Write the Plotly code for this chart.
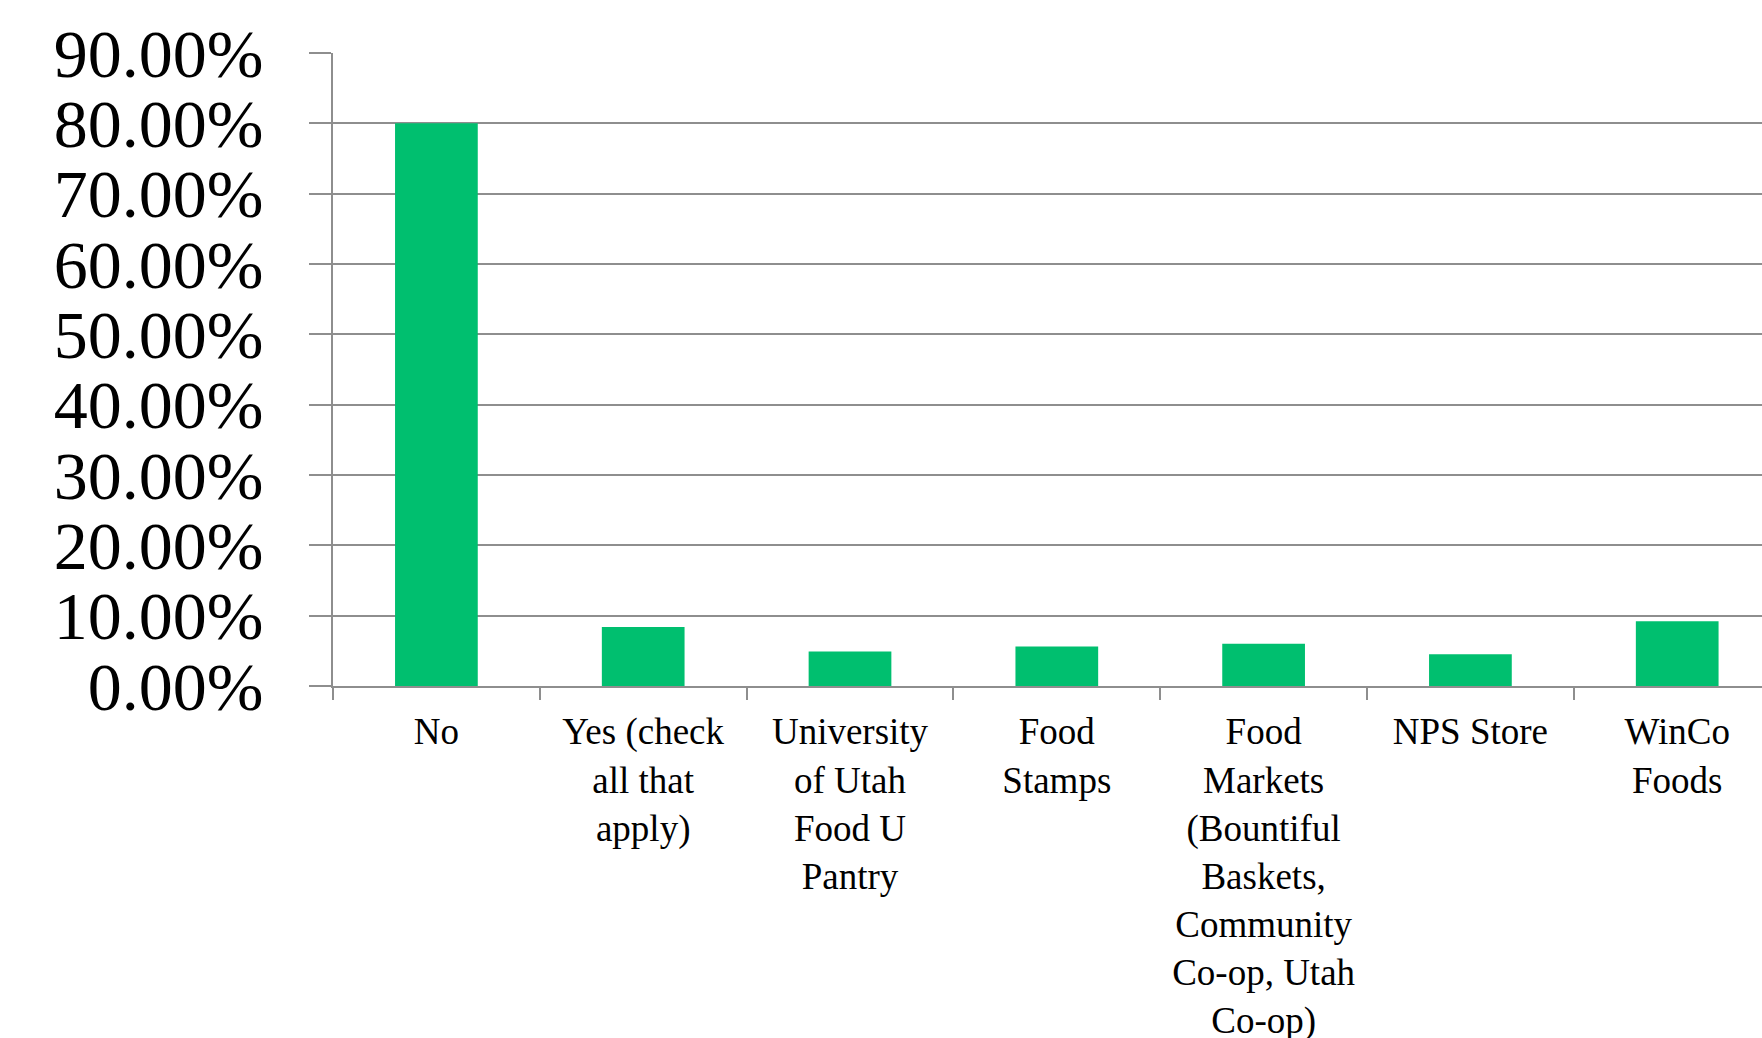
import plotly.graph_objects as go

# Survey responses: share of respondents for each food resource option
categories = [
    "No",
    "Yes (check<br>all that<br>apply)",
    "University<br>of Utah<br>Food U<br>Pantry",
    "Food<br>Stamps",
    "Food<br>Markets<br>(Bountiful<br>Baskets,<br>Community<br>Co-op, Utah<br>Co-op)",
    "NPS Store",
    "WinCo<br>Foods",
]
shares = [0.800, 0.084, 0.049, 0.056, 0.060, 0.045, 0.092]
y_ticks = [0.0, 0.1, 0.2, 0.3, 0.4, 0.5, 0.6, 0.7, 0.8, 0.9]

GREEN = "#00BF6F"
GRID = "#8E8E8E"
FONT = "Liberation Serif, Times New Roman, serif"

fig = go.Figure(
    go.Bar(
        x=categories,
        y=shares,
        marker=dict(color=GREEN, line=dict(width=0)),
        width=0.4,
    )
)

fig.update_layout(
    width=1762,
    height=1038,
    margin=dict(l=333, r=0, t=53, b=352, autoexpand=False),
    plot_bgcolor="white",
    paper_bgcolor="white",
    showlegend=False,
    font=dict(family=FONT, color="black"),
)

fig.update_xaxes(
    range=[-0.5, 6.41],
    automargin=False,
    showgrid=False,
    showline=True,
    linecolor=GRID,
    linewidth=2,
    ticks="outside",
    tickson="boundaries",
    ticklen=12,
    tickwidth=2,
    tickcolor=GRID,
    tickfont=dict(size=37, family=FONT, color="black"),
    ticklabelstandoff=12,
)

fig.update_yaxes(
    range=[0, 0.9],
    automargin=False,
    tickvals=y_ticks,
    tickformat=".2%",
    showgrid=True,
    gridcolor=GRID,
    gridwidth=2,
    showline=True,
    linecolor=GRID,
    linewidth=2,
    ticks="outside",
    ticklen=22,
    tickwidth=2,
    tickcolor=GRID,
    tickfont=dict(size=68, family=FONT, color="black"),
    ticklabelstandoff=32,
    zeroline=False,
)

fig.write_html("out.html")
